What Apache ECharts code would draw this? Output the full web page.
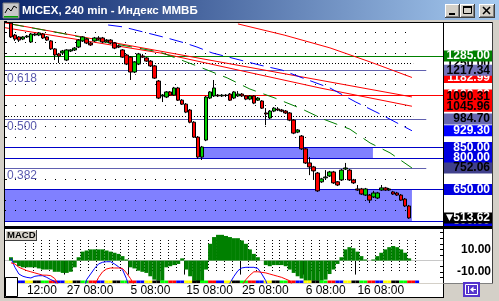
<!DOCTYPE html>
<html><head><meta charset="utf-8">
<script src="https://cdn.jsdelivr.net/npm/echarts@6/dist/echarts.min.js"></script>
<style>html,body{margin:0;padding:0;background:#d4d0c8;overflow:hidden}#c{width:499px;height:301px}</style>
</head><body><div id="c"></div>
<script>
// ---------- DATA ----------
const candleOpen = [
1442,1385,1376,1366,1376,1352,1385,1385,1390,1376,
1357,1319,1295,1300,1266,1309,1314,1328,1357,1366,
1347,1357,1371,1371,1357,1361,1347,1333,1314,1290,
1280,1209,1247,1285,1276,1261,1238,1166,1095,1090,
1114,1099,1133,1075,1056,1028,970,899,804,885,
1085,1095,1099,1095,1099,1104,1085,1095,1104,1095,
1080,1095,1075,1071,1014,990,1023,1033,1028,1023,
1014,980,923,904,843,776,757,728,686,705,
714,733,686,695,747,742,695,652,652,623,
623,614,609,647,657,647,638,633,623,604,
571];
const candleClose = [
1376,1366,1361,1376,1380,1390,1390,1395,1371,1361,
1319,1290,1285,1309,1314,1314,1323,1361,1376,1347,
1338,1371,1366,1352,1361,1347,1323,1328,1280,1247,
1209,1257,1295,1280,1261,1238,1180,1085,1099,1114,
1099,1133,1075,1056,1018,970,899,804,852,1090,
1114,1133,1095,1099,1097,1075,1114,1104,1095,1080,
1095,1061,1085,1037,1009,1023,1037,1028,1023,1014,
980,918,933,843,776,757,738,643,700,709,
733,681,671,742,752,695,681,647,628,652,
599,633,633,657,647,652,628,623,599,571,
514];
const candleLow = [
1371,1357,1352,1361,1371,1347,1380,1380,1366,1357,
1314,1266,1252,1290,1261,1304,1309,1323,1352,1342,
1333,1352,1361,1347,1352,1342,1318,1323,1276,1242,
1171,1204,1242,1276,1257,1233,1176,1080,1066,1085,
1095,1095,1071,1052,1013,965,895,795,790,880,
1080,1090,1090,1090,1090,1071,1080,1090,1090,1075,
1075,1056,1071,1033,956,985,1018,1023,1018,1009,
975,913,918,838,771,718,695,638,681,700,
709,676,666,690,742,690,676,643,624,619,
585,609,604,643,643,643,624,619,595,566,
510];
const candleHigh = [
1447,1390,1380,1380,1385,1395,1395,1399,1395,1380,
1361,1323,1300,1314,1318,1318,1328,1366,1380,1371,
1352,1376,1380,1376,1366,1366,1352,1338,1318,1295,
1285,1261,1300,1295,1280,1266,1242,1171,1104,1118,
1118,1138,1138,1080,1061,1033,975,904,857,1095,
1118,1171,1104,1104,1104,1109,1118,1118,1109,1099,
1099,1099,1090,1075,1037,1028,1042,1042,1033,1028,
1018,985,937,909,847,804,762,733,705,742,
738,738,690,747,776,747,700,671,657,657,
628,643,638,671,662,657,643,638,628,609,
576];

const macdHist = [
3,-2,-5,-6,-6,-6,-6,-7,-8,-8,
-8,-10,-10,-11,-11,-10,-6,3,8,9,
10,10,10,10,9,8,7,6,4,1,
-6,-7,-9,-10,-11,-14,-17,-18,-18,-6,
-5,-4,-3,2,-8,-14,-18,-19,-19,-8,
15,21,23,23,22,21,20,20,18,15,
10,6,3,0,-4,-5,-4,-4,-4,-5,
-8,-11,-14,-16,-18,-18,-18,-18,-18,-17,
-12,-8,-3,3,10,12,11,8,4,1,
0,1,4,7,10,12,13,12,10,7,
2];
const macdMain = [
2,-6,-12,-14,-15,-15.5,-14,-13.5,-13.5,-15,
-17,-18.5,-25,-30,-30,-30,-30,-30,-30,-17,
-12,-7,-3,-1.5,-1,-1,-3,-5.5,-8,-16,
-28,-30,-30,-30,-30,-30,-30,-30,-30,-30,
-30,-30,-30,-30,-30,-30,-30,-30,-30,-30,
-30,-30,-30,-30,-30,-20,-14,-9,-6.5,-6,
-6,-6,-7,-12,-18,-28,-30,-30,-30,-30,
-30,-30,-30,-30,-30,-30,-30,-30,-30,-30,
-30,-30,-30,-30,-30,-30,-30,-30,-30,-30,
-30,-30,-30,-30,-30,-30,-30,-30,-30,-30,
-30];
const macdSignal = [
-2,-3,-6,-7.5,-9,-10,-11,-12,-13,-13,
-13.5,-16,-22,-30,-30,-30,-30,-30,-30,-30,
-30,-22,-15,-10,-7.5,-6.6,-6.6,-6.6,-7,-11,
-16,-22,-30,-30,-30,-30,-30,-30,-30,-30,
-30,-30,-30,-30,-30,-30,-30,-30,-30,-30,
-30,-30,-30,-30,-30,-30,-30,-28,-22,-17,
-13,-10,-10,-10.5,-11,-12,-13,-14,-15,-16.5,
-18,-24,-30,-30,-30,-30,-30,-30,-30,-30,
-30,-30,-30,-30,-30,-30,-30,-30,-30,-30,
-30,-30,-30,-30,-30,-30,-30,-30,-30,-30,
-30];

// time axis labels: [category index, text, has separator tick]
const timeLabels = [[5,'12:00',false],[15,'27 08:00',true],[31,'5 08:00',true],[45,'15 08:00',true],
                    [59,'25 08:00',true],[75,'6 08:00',true],[88,'16 08:00',true]];

// trend lines / moving averages: [category position, price]
const redLineA = [[-0.5,1443],[101.7,1090.31]];
const redLineB = [[-0.5,1420],[38.4,1300],[78.6,1133],[101.7,1045.96]];
const redLineC = [[58.0,1438],[69.6,1385],[81.1,1324],[91.2,1257],[101.7,1182.99]];
const greenMA = [[0.8,1438],[13.3,1395],[25.9,1347],[38.4,1304],[47.7,1238],[55.3,1181],[61.0,1128],
                 [67.3,1085],[73.6,1037],[79.4,985],[86.1,937],[91.2,871],[96.2,824],[101.7,752.06]];
const blueMA = [[25.4,1433],[29.1,1424],[35.2,1395],[40.2,1371],[44.7,1347],[47.7,1328],[51.5,1300],
                [57.5,1271],[63.5,1242],[69.1,1218],[73.6,1185],[81.1,1133],[87.6,1066],[93.7,1009],[101.7,929.3]];

// horizontal levels
const solidLevels = [1285, 1100, 850, 800, 650, 500];
const solidColors = ['#008000', '#ff0000', '#0000c8', '#0000c8', '#0000c8', '#0000c8'];
const fibLevels = [1217.34, 984.70, 752.06];
const fibNames = ['0.618', '0.500', '0.382'];
const roundLevels = [1250, 1000];
const gridLevels = [1400,1350,1300,1200,1150,1050,950,900,700,600,550];
// zones: [from price, to price, start pos, end pos]
const zones = [[850, 800, 48.5, 91.9], [650, 500, -0.5, 101.7]];

// right price scale boxes: [price, text]
const priceBoxes = [[1250,'1250.00'],[1285,'1285.00'],[1182.99,'1182.99'],[1217.34,'1217.34'],
  [1100,'1100.00'],[1090.31,'1090.31'],[1045.96,'1045.96'],[984.70,'984.70'],[929.30,'929.30'],
  [850,'850.00'],[800,'800.00'],[752.06,'752.06'],[650,'650.00'],[500,'500.00'],[513.62,'513.62']];
const boxBg = ['#ffffff','#008000','#ff0000','#7272b8','#ff0000','#ff0000','#ff0000','#6767b0','#0000ff',
  '#0000e0','#0000e0','#40408c','#0000e0','#0000e0','#000000'];
const boxFg = ['#000','#fff','#fff','#000','#fff','#000','#000','#000','#fff','#fff','#fff','#000','#fff','#fff','#fff'];

const dayColors = ['#0000ff','#ffff00','#000000','#00ff00','#ff0000'];

// ---------- BUILD ----------
const N = 110;
const FONT = '"Liberation Sans", Arial, sans-serif';
const cats = new Array(N).fill('');
timeLabels.forEach(t => { cats[t[0]] = t[1]; });
const labelSet = new Set(timeLabels.map(t => t[0]));
const tickSet = new Set(timeLabels.filter(t => t[2]).map(t => t[0]));

const candleData = cats.map((_, c) => {
  const i = c - 1;
  return (i >= 0 && i < candleOpen.length) ? [candleOpen[i], candleClose[i], candleLow[i], candleHigh[i]] : ['-','-','-','-'];
});
const shift = arr => cats.map((_, c) => { const i = c - 1; return (i >= 0 && i < arr.length) ? arr[i] : '-'; });
const stripData = cats.map((_, c) => (c >= 1 && c <= 103)
  ? { value: 1, itemStyle: { color: dayColors[(Math.floor((c - 1) / 2) + 4) % 5] } } : '-');

const XR = N - 0.5;
const hLine = (v, x0, x1, style, label) => [
  { coord: [x0, v], lineStyle: style, label: label || { show: false } },
  { coord: [x1, v] }
];

const mlGrid = gridLevels.map(v => hLine(v, -0.5, 102, { color: '#000', type: [1, 9], width: 1 }));
const mlRound = roundLevels.map(v => hLine(v, -0.5, 102, { color: '#000', type: [1, 2], width: 1 }));
const mlSolid = solidLevels.map((v, k) => hLine(v, -0.5, XR, { color: solidColors[k], type: 'solid', width: 1 }));
const mlFib = fibLevels.map((v, k) => hLine(v, -0.5, 105.3, { color: '#6060b0', type: 'solid', width: 1 },
  { show: true, position: 'insideStartBottom', distance: 2, formatter: fibNames[k], color: '#5c5cb0',
    fontSize: 12, fontFamily: FONT, padding: 0 }));
const mlBoxes = priceBoxes.map((p, k) => {
  const isLast = p[1] === '513.62';
  const rich = isLast
    ? { a: { width: 7, align: 'left', color: boxFg[k], fontSize: 9, fontFamily: 'DejaVu Sans', lineHeight: 11 },
        v: { width: 37, align: 'right', color: boxFg[k], fontSize: 12, fontWeight: 'bold', fontFamily: FONT, lineHeight: 11 } }
    : { v: { width: 44, align: 'right', color: boxFg[k], fontSize: 12, fontWeight: 'bold', fontFamily: FONT, lineHeight: 11 } };
  return hLine(p[0], -0.5, XR, { color: 'rgba(0,0,0,0)', width: 1 }, {
    show: true, position: 'end', distance: 1, opacity: 1,
    formatter: isLast ? '{a|▼}{v|' + p[1] + '}' : '{v|' + p[1] + '}',
    backgroundColor: boxBg[k], padding: [0, 2, 0, 2], rich: rich
  });
});

const lineSeries = (data, color, type, z) => ({
  type: 'line', xAxisIndex: 1, yAxisIndex: 0, data: data, symbol: 'none', silent: true, z: z,
  lineStyle: { color: color, width: 1, type: type }, animation: false
});

// ---------- CHROME ----------
function button(x, y, w, h) {
  return [
    { type: 'rect', z: 100, silent: true, shape: { x: x, y: y, width: w, height: h }, style: { fill: '#404040' } },
    { type: 'rect', z: 100, silent: true, shape: { x: x, y: y, width: w - 1, height: h - 1 }, style: { fill: '#ffffff' } },
    { type: 'rect', z: 100, silent: true, shape: { x: x + 1, y: y + 1, width: w - 2, height: h - 2 }, style: { fill: '#808080' } },
    { type: 'rect', z: 100, silent: true, shape: { x: x + 1, y: y + 1, width: w - 3, height: h - 3 }, style: { fill: '#d4d0c8' } }
  ];
}
const black = (x, y, w, h, c) => ({ type: 'rect', z: 100, silent: true, shape: { x: x, y: y, width: w, height: h }, style: { fill: c || '#000' } });

const graphics = [
  { type: 'rect', z: -10, silent: true, shape: { x: 5, y: 23, width: 487, height: 203 }, style: { fill: '#fff' } },
  { type: 'rect', z: -10, silent: true, shape: { x: 5, y: 229, width: 487, height: 54 }, style: { fill: '#fff' } },
  { type: 'rect', z: -10, silent: true, shape: { x: 5, y: 284, width: 438, height: 13 }, style: { fill: '#fff' } },
  { type: 'rect', z: 100, silent: true, shape: { x: 0, y: 0, width: 499, height: 20 },
    style: { fill: { type: 'linear', x: 0, y: 0, x2: 1, y2: 0, colorStops: [{ offset: 0, color: '#0a246a' }, { offset: 1, color: '#a6caf0' }] } } },
  { type: 'rect', z: 100, silent: true, shape: { x: 3, y: 3, width: 16, height: 15 }, style: { fill: '#c8c8c8', stroke: '#808080', lineWidth: 1 } },
  { type: 'polyline', z: 101, silent: true, shape: { points: [[5, 13], [8, 8], [11, 11], [14, 6], [17, 8]] }, style: { stroke: '#000', lineWidth: 1, fill: null } },
  { type: 'rect', z: 101, silent: true, shape: { x: 4, y: 16, width: 14, height: 1.5 }, style: { fill: '#00a000' } },
  { type: 'text', z: 101, silent: true, x: 22, y: 11,
    style: { text: 'MICEX, 240 min - Индекс ММВБ', fill: '#fff', fontSize: 11.5, fontWeight: 'bold', fontFamily: FONT, verticalAlign: 'middle' } },
  ...button(445, 4, 15, 14), ...button(460, 4, 15, 14), ...button(479, 4, 16, 14),
  black(449, 13, 6, 2),
  { type: 'rect', z: 101, silent: true, shape: { x: 463.5, y: 6.5, width: 8, height: 7 }, style: { fill: null, stroke: '#000', lineWidth: 1 } },
  black(463, 6, 9, 2),
  { type: 'line', z: 101, silent: true, shape: { x1: 483, y1: 7, x2: 490, y2: 14 }, style: { stroke: '#000', lineWidth: 1.6 } },
  { type: 'line', z: 101, silent: true, shape: { x1: 490, y1: 7, x2: 483, y2: 14 }, style: { stroke: '#000', lineWidth: 1.6 } },
  black(4, 22, 489, 1), black(4, 22, 1, 276), black(443, 22, 1, 276),
  black(4, 226, 489, 3), black(4, 297, 440, 1), black(492, 22, 1, 262, '#404040'),
  black(443, 283, 50, 1, '#808080'),
  { type: 'rect', z: 100, silent: true, shape: { x: 5, y: 230, width: 32, height: 11 }, style: { fill: '#404040' } },
  { type: 'rect', z: 100, silent: true, shape: { x: 5, y: 230, width: 31, height: 10 }, style: { fill: '#fff' } },
  { type: 'rect', z: 100, silent: true, shape: { x: 6, y: 231, width: 30, height: 9 }, style: { fill: '#d4d0c8' } },
  { type: 'text', z: 101, silent: true, x: 7, y: 235.5,
    style: { text: 'MACD', fill: '#000', fontSize: 9.5, fontWeight: 'bold', fontFamily: FONT, verticalAlign: 'middle' } },
  { type: 'rect', z: 100, silent: true, shape: { x: 5.5, y: 277.5, width: 12, height: 19 }, style: { fill: '#fff', stroke: '#000', lineWidth: 1 } },
  { type: 'rect', z: 100, silent: true, shape: { x: 463, y: 282, width: 17, height: 15 }, style: { fill: '#5534cc' } },
  { type: 'rect', z: 101, silent: true, shape: { x: 465.5, y: 284.5, width: 12, height: 10 }, style: { fill: null, stroke: '#fff', lineWidth: 1 } },
  black(468, 286, 1, 7, '#fff'),
  { type: 'polygon', z: 101, silent: true, shape: { points: [[470, 289.5], [473.5, 286.5], [473.5, 292.5]] }, style: { fill: '#fff' } },
  black(473, 289, 3, 1, '#fff')
];

// ---------- OPTION ----------
const chart = echarts.init(document.getElementById('c'), null, { renderer: 'canvas' });
const option = {
  animation: false,
  backgroundColor: '#d4d0c8',
  textStyle: { fontFamily: FONT },
  graphic: { elements: graphics },
  grid: [
    { left: 5, top: 21.4, width: 438, height: 199.5, show: false, containLabel: false, outerBoundsMode: 'none' },
    { left: 5, top: 229, width: 438, height: 54, show: false, containLabel: false, outerBoundsMode: 'none' },
    { left: 5, top: 240, width: 438, height: 32, show: false, containLabel: false, outerBoundsMode: 'none' },
    { left: 5, top: 280.5, width: 438, height: 2.5, show: false, containLabel: false, outerBoundsMode: 'none' }
  ],
  xAxis: [
    { type: 'category', gridIndex: 0, data: cats, show: false, boundaryGap: true },
    { type: 'value', gridIndex: 0, min: -0.5, max: XR, show: false },
    { type: 'category', gridIndex: 1, data: cats, boundaryGap: true, position: 'bottom',
      axisLine: { show: true, lineStyle: { color: '#000', width: 1 } },
      axisTick: { show: true, interval: i => tickSet.has(i), length: 14, lineStyle: { color: '#000', width: 1 } },
      axisLabel: { show: true, interval: i => labelSet.has(i), align: 'left', margin: 2, color: '#000',
                   fontSize: 12, fontFamily: FONT, hideOverlap: false },
      splitLine: { show: false } },
    { type: 'category', gridIndex: 2, data: cats, boundaryGap: true,
      axisLine: { show: false }, axisTick: { show: false }, axisLabel: { show: false },
      splitLine: { show: true, interval: i => (i % 2 === 1 && i >= 5 && i <= 103),
                   lineStyle: { color: '#000', type: [1, 2], width: 1 } } },
    { type: 'category', gridIndex: 3, data: cats, show: false, boundaryGap: true }
  ],
  yAxis: [
    { type: 'value', gridIndex: 0, min: 500, max: 1450, interval: 50, position: 'right',
      axisLine: { show: false }, axisTick: { show: true, inside: true, length: 3, lineStyle: { color: '#000' } },
      axisLabel: { show: false }, splitLine: { show: false } },
    { type: 'value', gridIndex: 1, min: -20, max: 28.2, interval: 5, position: 'right',
      axisLine: { show: false }, axisTick: { show: true, inside: true, length: 3, lineStyle: { color: '#000' } },
      axisLabel: { show: true, margin: 48, align: 'right', color: '#000', fontSize: 12, fontWeight: 'bold', fontFamily: FONT,
                   showMinLabel: false, showMaxLabel: false,
                   formatter: v => (Math.abs(Math.abs(v) - 10) < 1e-6 ? v.toFixed(2) : '') },
      splitLine: { show: false } },
    { type: 'value', gridIndex: 2, min: 0, max: 1, show: false },
    { type: 'value', gridIndex: 3, min: 0, max: 1, show: false }
  ],
  series: [
    { type: 'line', xAxisIndex: 1, yAxisIndex: 0, data: [], silent: true,
      markArea: { silent: true, z: 1, itemStyle: { color: '#8080ff', opacity: 1 },
        data: zones.map(zn => [{ coord: [zn[2], zn[0]] }, { coord: [zn[3], zn[1]] }]) } },
    { type: 'line', xAxisIndex: 1, yAxisIndex: 0, data: [], silent: true,
      markLine: { silent: true, z: 1, symbol: ['none', 'none'], animation: false, data: mlGrid.concat(mlRound) } },
    { type: 'line', xAxisIndex: 1, yAxisIndex: 0, data: [], silent: true,
      markLine: { silent: true, z: 2, symbol: ['none', 'none'], animation: false, data: mlSolid.concat(mlFib) } },
    lineSeries(redLineA, '#ff0000', 'solid', 2),
    lineSeries(redLineB, '#ff0000', 'solid', 2),
    lineSeries(redLineC, '#ff0000', 'solid', 2),
    lineSeries(greenMA, '#008000', [14, 8], 2),
    lineSeries(blueMA, '#0000ff', [14, 7], 2),
    { type: 'candlestick', xAxisIndex: 0, yAxisIndex: 0, data: candleData, barWidth: 4, z: 3, silent: true,
      itemStyle: { color: '#00d000', color0: '#ff0000', borderColor: '#000', borderColor0: '#000', borderWidth: 1 } },
    { type: 'line', xAxisIndex: 1, yAxisIndex: 0, data: [], silent: true,
      markLine: { silent: true, z: 10, symbol: ['none', 'none'], animation: false,
        lineStyle: { color: 'rgba(0,0,0,0)' }, data: mlBoxes } },
    { type: 'line', xAxisIndex: 2, yAxisIndex: 1, data: [], silent: true,
      markLine: { silent: true, z: 1, symbol: ['none', 'none'], label: { show: false },
        lineStyle: { color: '#c8c8c8', type: 'solid', width: 1 }, data: [{ yAxis: 0 }] } },
    { type: 'bar', xAxisIndex: 2, yAxisIndex: 1, data: shift(macdHist), barCategoryGap: '0%', silent: true, z: 2,
      itemStyle: { color: '#008000' } },
    { type: 'line', xAxisIndex: 2, yAxisIndex: 1, data: shift(macdMain), symbol: 'none', silent: true, z: 3,
      lineStyle: { color: '#0000ff', width: 1 }, clip: true },
    { type: 'line', xAxisIndex: 2, yAxisIndex: 1, data: shift(macdSignal), symbol: 'none', silent: true, z: 3,
      lineStyle: { color: '#ff0000', width: 1 }, clip: true },
    { type: 'bar', xAxisIndex: 4, yAxisIndex: 3, data: stripData, barCategoryGap: '0%', silent: true }
  ]
};
chart.setOption(option);
</script>
</body></html>
